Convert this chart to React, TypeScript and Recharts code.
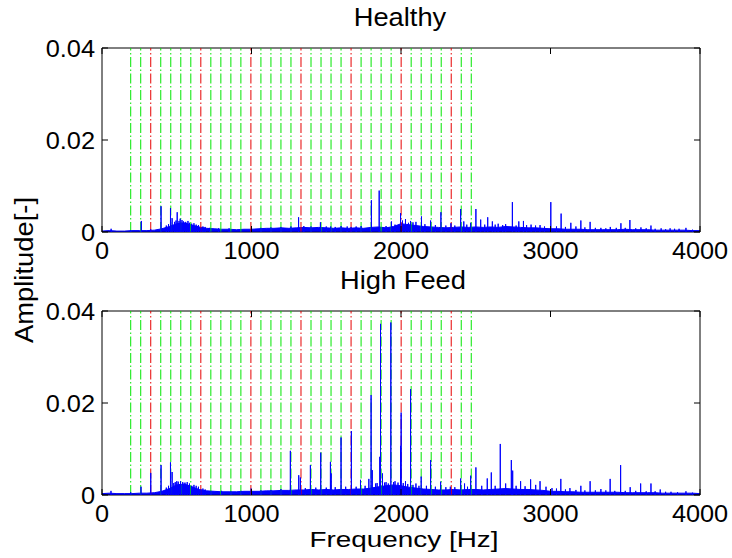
import React from "react";
import { ComposedChart, Area, Line, XAxis, YAxis, ReferenceLine, ReferenceArea } from "recharts";

const FONT = '"Liberation Sans", Arial, Helvetica, sans-serif';

const X_TICKS = [0, 1000, 2000, 3000, 4000];
const Y_TICKS = [0, 0.02, 0.04];

// dash-dot marker lines (Hz)
const GREEN_FREQ = [
  192, 259, 393, 460, 527, 594, 728, 795, 862, 929, 1063, 1130, 1197, 1264,
  1398, 1465, 1532, 1599, 1733, 1800, 1867, 1934, 2068, 2135, 2202, 2269, 2403, 2470,
];
const RED_FREQ = [326, 661, 996, 1331, 1666, 2001, 2336];

// noise floor sampled every 50 Hz
const FLOOR_FREQ = [
  0, 50, 100, 150, 200, 250, 300, 350, 400, 450, 500, 550, 600, 650, 700, 750, 800, 850, 900, 950,
  1000, 1050, 1100, 1150, 1200, 1250, 1300, 1350, 1400, 1450, 1500, 1550, 1600, 1650, 1700, 1750,
  1800, 1850, 1900, 1950, 2000, 2050, 2100, 2150, 2200, 2250, 2300, 2350, 2400, 2450, 2500, 2550,
  2600, 2650, 2700, 2750, 2800, 2850, 2900, 2950, 3000, 3050, 3100, 3150, 3200, 3250, 3300, 3350,
  3400, 3450, 3500, 3550, 3600, 3650, 3700, 3750, 3800, 3850, 3900, 3950, 4000,
];

const HEALTHY_FLOOR = [
  0.0002, 0.0003, 0.0002, 0.0002, 0.0003, 0.0003, 0.0003, 0.0004, 0.0007, 0.0012, 0.0018, 0.002, 0.0015, 0.0011, 0.0008, 0.0007, 0.0006, 0.0006, 0.0005, 0.0006,
  0.0006, 0.0007, 0.0008, 0.0008, 0.0009, 0.0008, 0.0009, 0.001, 0.0009, 0.001, 0.0009, 0.0008, 0.0009, 0.0008, 0.0009, 0.0008,
  0.001, 0.0011, 0.0009, 0.0012, 0.0018, 0.0016, 0.0014, 0.0012, 0.0011, 0.001, 0.0009, 0.001, 0.0011, 0.001, 0.0011, 0.001,
  0.0011, 0.001, 0.0012, 0.0011, 0.001, 0.0009, 0.0009, 0.0008, 0.0007, 0.0007, 0.0006, 0.0006, 0.0006, 0.0005, 0.0005, 0.0005,
  0.0005, 0.0005, 0.0006, 0.0005, 0.0005, 0.0005, 0.0004, 0.0004, 0.0004, 0.0004, 0.0004, 0.0003, 0.0003,
];

const FEED_FLOOR = [
  0.0003, 0.0004, 0.0003, 0.0003, 0.0003, 0.0004, 0.0004, 0.0005, 0.0008, 0.0014, 0.0022, 0.0024, 0.0018, 0.0012, 0.0009, 0.0008, 0.0007, 0.0007, 0.0007, 0.0008,
  0.0008, 0.0008, 0.0009, 0.0009, 0.001, 0.001, 0.0011, 0.0011, 0.0012, 0.0011, 0.0012, 0.0011, 0.0012, 0.0012, 0.0013, 0.0013,
  0.0015, 0.0018, 0.002, 0.0022, 0.002, 0.0017, 0.0015, 0.0013, 0.0012, 0.0011, 0.0011, 0.0012, 0.0011, 0.0012, 0.0012, 0.0011,
  0.0012, 0.0013, 0.0014, 0.0013, 0.0012, 0.0012, 0.0011, 0.001, 0.0008, 0.0008, 0.0007, 0.0007, 0.0006, 0.0006, 0.0006, 0.0006,
  0.0006, 0.0006, 0.0005, 0.0005, 0.0005, 0.0005, 0.0005, 0.0004, 0.0004, 0.0004, 0.0004, 0.0004, 0.0003,
];

// spectral peaks [Hz, amplitude]
const HEALTHY_PEAKS: [number, number][] = [
  [61, 0.0007], [192, 0.0004], [263, 0.0024], [326, 0.0006], [395, 0.0056], [430, 0.0014], [445, 0.0017],
  [458, 0.0052], [469, 0.003], [485, 0.0022], [495, 0.0025], [503, 0.0043], [515, 0.0024], [523, 0.0029],
  [535, 0.0026], [545, 0.0023], [560, 0.0022], [575, 0.0024], [585, 0.002], [600, 0.0018], [615, 0.0019],
  [630, 0.0016], [645, 0.0015], [661, 0.0009], [675, 0.0012], [690, 0.0011], [720, 0.0009], [780, 0.0008],
  [850, 0.0008], [1000, 0.0008], [1063, 0.0009], [1130, 0.001], [1197, 0.0011], [1264, 0.0012], [1315, 0.0032],
  [1350, 0.0013], [1398, 0.0012], [1461, 0.0021], [1500, 0.0012], [1530, 0.0012], [1560, 0.0011], [1599, 0.0013],
  [1640, 0.0012], [1666, 0.0011], [1700, 0.0012], [1733, 0.0013], [1802, 0.0069], [1854, 0.009], [1900, 0.0013],
  [1936, 0.0023], [1960, 0.0016], [1997, 0.0041], [2010, 0.0025], [2030, 0.0028], [2050, 0.002], [2064, 0.0024],
  [2080, 0.0021], [2100, 0.0022], [2137, 0.0034], [2160, 0.0017], [2198, 0.0025], [2230, 0.0015], [2267, 0.0043],
  [2300, 0.0014], [2334, 0.0019], [2360, 0.0014], [2399, 0.005], [2420, 0.0023], [2440, 0.0016], [2466, 0.002],
  [2501, 0.005], [2533, 0.0027], [2560, 0.0016], [2580, 0.0032], [2611, 0.0023], [2630, 0.0016], [2650, 0.0018],
  [2680, 0.0015], [2700, 0.0017], [2745, 0.0065], [2770, 0.0014], [2788, 0.0023], [2819, 0.0024], [2840, 0.0015],
  [2870, 0.0016], [2900, 0.0014], [2930, 0.0015], [2960, 0.0012], [3002, 0.0065], [3040, 0.0012], [3071, 0.004],
  [3100, 0.0011], [3136, 0.002], [3170, 0.0012], [3203, 0.0025], [3230, 0.001], [3265, 0.0022], [3300, 0.0009],
  [3337, 0.0009], [3370, 0.0008], [3400, 0.0011], [3440, 0.0009], [3471, 0.0019], [3500, 0.0009], [3531, 0.0026],
  [3570, 0.0008], [3605, 0.001], [3640, 0.0008], [3672, 0.0014], [3700, 0.0007], [3740, 0.0008], [3770, 0.0006],
  [3800, 0.0008], [3830, 0.0007], [3860, 0.0007], [3906, 0.0009], [3950, 0.0005],
];

const FEED_PEAKS: [number, number][] = [
  [60, 0.0009], [192, 0.0006], [261, 0.0018], [326, 0.0048], [395, 0.0065], [430, 0.0016], [445, 0.002],
  [458, 0.0071], [469, 0.005], [480, 0.0026], [490, 0.0028], [500, 0.003], [510, 0.0029], [525, 0.003],
  [540, 0.0028], [555, 0.0027], [570, 0.0028], [585, 0.0025], [600, 0.002], [615, 0.0022], [630, 0.002],
  [645, 0.0018], [661, 0.0012], [675, 0.0014], [690, 0.0012], [728, 0.0009], [800, 0.0009], [862, 0.0008],
  [930, 0.0009], [998, 0.0014], [1063, 0.001], [1130, 0.0011], [1197, 0.0013], [1260, 0.0096], [1316, 0.0043],
  [1327, 0.0038], [1360, 0.0015], [1394, 0.0065], [1430, 0.0016], [1463, 0.0092], [1500, 0.0016], [1528, 0.0072],
  [1533, 0.0047], [1560, 0.0017], [1599, 0.0125], [1630, 0.0018], [1668, 0.0139], [1700, 0.0018], [1729, 0.0033],
  [1760, 0.002], [1785, 0.0035], [1800, 0.0217], [1808, 0.0054], [1830, 0.0025], [1840, 0.0026], [1858, 0.0083],
  [1863, 0.0372], [1876, 0.0047], [1890, 0.0027], [1900, 0.0028], [1915, 0.0025], [1932, 0.0375], [1950, 0.0028],
  [1960, 0.003], [1980, 0.0027], [1997, 0.0107], [2001, 0.0179], [2015, 0.0026], [2030, 0.003], [2045, 0.0024],
  [2064, 0.023], [2080, 0.0022], [2100, 0.0025], [2120, 0.002], [2135, 0.004], [2170, 0.002], [2198, 0.0076],
  [2230, 0.0018], [2265, 0.0029], [2300, 0.0017], [2330, 0.0018], [2360, 0.0017], [2399, 0.0036], [2425, 0.0025],
  [2445, 0.0018], [2466, 0.0042], [2501, 0.006], [2540, 0.002], [2577, 0.0036], [2604, 0.0049], [2630, 0.002],
  [2664, 0.0111], [2700, 0.0025], [2738, 0.0076], [2747, 0.0053], [2770, 0.002], [2800, 0.003], [2830, 0.0019],
  [2867, 0.0034], [2901, 0.0022], [2930, 0.003], [2970, 0.0018], [3010, 0.0015], [3040, 0.0014], [3069, 0.0035],
  [3100, 0.0012], [3130, 0.0015], [3170, 0.0011], [3203, 0.002], [3230, 0.001], [3265, 0.003], [3300, 0.001],
  [3337, 0.0013], [3370, 0.001], [3399, 0.0035], [3430, 0.0009], [3469, 0.0065], [3500, 0.0009], [3533, 0.0017],
  [3570, 0.0009], [3603, 0.0025], [3640, 0.0008], [3672, 0.0025], [3700, 0.0008], [3734, 0.0012], [3770, 0.0007],
  [3806, 0.0007], [3850, 0.0006], [3906, 0.0008], [3950, 0.0005],
];

const PLOT_H = 184;
const PLOT_LEFT = 102;
const PLOT_RIGHT = 700;
const DASH = "10 2.5 1.5 2.5";

function floorData(vals: number[]) {
  return FLOOR_FREQ.map((f, i) => ({ f, a: vals[i] }));
}

function spikeData(peaks: [number, number][]) {
  return peaks.flatMap(([f, a]) => [
    { f, a: 0 },
    { f, a },
    { f, a: 0 },
  ]);
}

function Stretch({ x, y, sx, size, anchor, children }: any) {
  return (
    <text
      transform={`translate(${x},${y}) scale(${sx},1)`}
      textAnchor={anchor}
      fontFamily={FONT}
      fontSize={size}
      fill="#000"
    >
      {children}
    </text>
  );
}

function Panel({ floor, peaks, top, plotTop }: { floor: number[]; peaks: [number, number][]; top: number; plotTop: number }) {
  const height = 279;
  const bottom = plotTop + PLOT_H;

  const XTick = (props: any) => {
    const x = props.payload.coordinate;
    return (
      <g>
        <line x1={x} x2={x} y1={bottom} y2={bottom - 6} stroke="#000" />
        <line x1={x} x2={x} y1={plotTop} y2={plotTop + 6} stroke="#000" />
        <Stretch x={x} y={bottom + 27} sx={1.1} size={23} anchor="middle">
          {String(props.payload.value)}
        </Stretch>
      </g>
    );
  };

  const YTick = (props: any) => {
    const y = props.payload.coordinate;
    return (
      <g>
        <line x1={PLOT_LEFT} x2={PLOT_LEFT + 6} y1={y} y2={y} stroke="#000" />
        <line x1={PLOT_RIGHT} x2={PLOT_RIGHT - 6} y1={y} y2={y} stroke="#000" />
        <Stretch x={95} y={y + 8.5} sx={1.08} size={23.5} anchor="end">
          {String(props.payload.value)}
        </Stretch>
      </g>
    );
  };

  return (
    <div style={{ position: "absolute", left: 0, top, width: 732, height }}>
      <ComposedChart width={732} height={height} margin={{ top: plotTop, right: 732 - PLOT_RIGHT, bottom: 0, left: 0 }}>
        <XAxis
          dataKey="f"
          type="number"
          domain={[0, 4000]}
          ticks={X_TICKS}
          interval={0}
          height={height - bottom}
          axisLine={false}
          tickLine={false}
          tick={XTick}
          allowDataOverflow
        />
        <YAxis
          type="number"
          domain={[0, 0.04]}
          ticks={Y_TICKS}
          interval={0}
          width={PLOT_LEFT}
          axisLine={false}
          tickLine={false}
          tick={YTick}
          allowDataOverflow
        />
        {GREEN_FREQ.map((f) => (
          <ReferenceLine key={"g" + f} x={f} stroke="#00e600" strokeWidth={1} strokeDasharray={DASH} />
        ))}
        {RED_FREQ.map((f) => (
          <ReferenceLine key={"r" + f} x={f} stroke="#e60000" strokeWidth={1} strokeDasharray={DASH} />
        ))}
        <Area
          data={floorData(floor)}
          dataKey="a"
          type="linear"
          stroke="#0000ff"
          strokeWidth={1}
          fill="#0000ff"
          fillOpacity={1}
          dot={false}
          activeDot={false}
          isAnimationActive={false}
        />
        <Line
          data={spikeData(peaks)}
          dataKey="a"
          type="linear"
          stroke="#0000ff"
          strokeWidth={1}
          dot={false}
          activeDot={false}
          isAnimationActive={false}
        />
        <ReferenceArea x1={0} x2={4000} y1={0} y2={0.04} fill="none" stroke="#000" strokeWidth={1} />
      </ComposedChart>
    </div>
  );
}

export default function App() {
  return (
    <div style={{ position: "absolute", left: 0, top: 0, width: 732, height: 558, background: "#fff", overflow: "hidden" }}>
      <Panel floor={HEALTHY_FLOOR} peaks={HEALTHY_PEAKS} top={0} plotTop={48} />
      <Panel floor={FEED_FLOOR} peaks={FEED_PEAKS} top={279} plotTop={32} />
      <svg width={732} height={558} style={{ position: "absolute", left: 0, top: 0, pointerEvents: "none" }}>
        <Stretch x={400} y={26} sx={1.05} size={26} anchor="middle">Healthy</Stretch>
        <Stretch x={403} y={289} sx={1.05} size={26} anchor="middle">High Feed</Stretch>
        <text
          x={404}
          y={547}
          textAnchor="middle"
          fontFamily={FONT}
          fontSize={22}
          textLength={189}
          lengthAdjust="spacingAndGlyphs"
        >
          Frequency [Hz]
        </text>
        <text
          transform="translate(33,270) rotate(-90)"
          textAnchor="middle"
          fontFamily={FONT}
          fontSize={25}
          textLength={146}
          lengthAdjust="spacingAndGlyphs"
        >
          Amplitude[-]
        </text>
      </svg>
    </div>
  );
}
